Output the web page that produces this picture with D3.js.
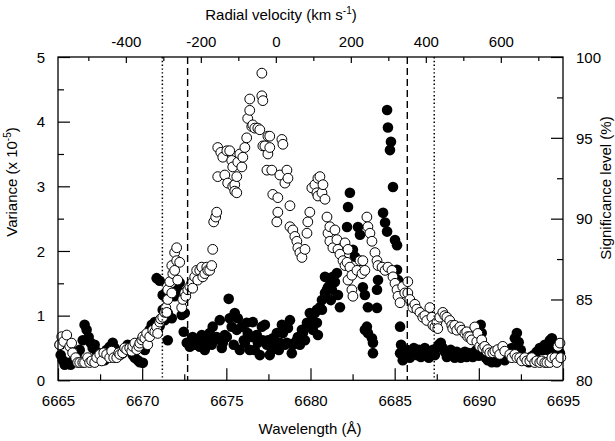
<!DOCTYPE html>
<html>
<head>
<meta charset="utf-8">
<script src="https://cdn.jsdelivr.net/npm/d3@7"></script>
<style>
  body { margin: 0; background: #fff; }
  svg { display: block; }
</style>
</head>
<body>
<svg width="615" height="441" font-family="'Liberation Sans', Arial, sans-serif"></svg>
<script>
// tick values
const wavelengthTicks = [6665, 6670, 6675, 6680, 6685, 6690, 6695];
const wavelengthMinorTicks = [6667.5, 6672.5, 6677.5, 6682.5, 6687.5, 6692.5];
const varianceTicks = [0, 1, 2, 3, 4, 5];
const varianceMinorTicks = [0.5, 1.5, 2.5, 3.5, 4.5];
const significanceTicks = [80, 85, 90, 95, 100];
const significanceMinorTicks = [82.5, 87.5, 92.5, 97.5];
const velocityTicks = [-400, -200, 0, 200, 400, 600];
const velocityMinorTicks = [-500, -300, -100, 100, 300, 500, 700];

// rest wavelength for the radial velocity axis
const restWavelength = 6677.94;
const lightSpeed = 299792.458;

// marker lines (wavelength)
const dottedLines = [6671.2, 6687.35];
const dashedLines = [6672.7, 6685.75];

// filled circles: [wavelength, variance x 1e-5]
const variancePoints = [
  [6665.10,.55],[6665.16,.39],[6665.28,.31],[6665.40,.24],[6665.58,.27],[6665.75,.24],[6665.93,.31],[6666.11,.39],
  [6666.29,.47],[6666.47,.62],[6666.58,.86],[6666.70,.78],[6666.82,.67],[6666.94,.58],[6667.06,.50],[6667.18,.55],
  [6667.30,.44],[6667.48,.35],[6667.66,.39],[6667.77,.31],[6667.89,.47],[6668.07,.52],[6668.25,.58],[6668.37,.50],
  [6668.49,.44],[6668.67,.39],[6668.84,.42],[6669.02,.50],[6669.14,.55],[6669.26,.47],[6669.44,.39],[6669.56,.35],
  [6669.74,.31],[6669.86,.28],[6670.04,.27],[6670.16,.47],[6670.33,.65],[6670.45,.78],[6670.57,.86],[6670.75,.90],
  [6670.86,1.58],[6671.04,1.54],[6671.04,.84],[6671.22,1.09],[6671.22,1.32],[6671.34,.93],[6671.46,1.27],[6671.52,1.04],
  [6671.64,1.37],[6671.52,.62],[6671.76,.96],[6671.93,1.30],[6672.11,1.40],[6672.23,1.51],[6672.35,1.01],[6672.53,1.04],
  [6672.47,.75],[6672.65,.58],[6672.83,.52],[6673.00,.67],[6673.12,.55],[6673.24,.59],[6673.42,.52],[6673.54,.70],
  [6673.60,.58],[6673.72,.47],[6673.84,.67],[6674.01,.73],[6674.13,.55],[6674.19,.83],[6674.31,.62],[6674.43,.67],
  [6674.61,.93],[6674.73,.50],[6674.79,.58],[6674.91,.70],[6675.03,.67],[6675.14,1.26],[6675.20,.96],[6675.32,.83],
  [6675.44,.55],[6675.50,1.04],[6675.62,.78],[6675.68,.96],[6675.80,.47],[6675.92,.83],[6676.04,.62],[6676.10,.58],
  [6676.21,.89],[6676.27,.73],[6676.39,.47],[6676.51,.67],[6676.57,.90],[6676.69,.47],[6676.81,.70],[6676.87,.58],
  [6676.99,.39],[6677.11,.83],[6677.17,.62],[6677.29,.86],[6677.41,.55],[6677.47,.62],[6677.58,.39],[6677.70,.47],
  [6677.76,.65],[6677.88,.52],[6678.00,.73],[6678.12,.47],[6678.18,.58],[6678.30,.86],[6678.36,.73],[6678.48,.55],
  [6678.60,.58],[6678.66,.81],[6678.78,.93],[6678.89,.42],[6678.95,.55],[6679.07,.58],[6679.19,.62],[6679.25,.67],
  [6679.37,.55],[6679.49,.78],[6679.55,.73],[6679.67,.62],[6679.79,.89],[6679.84,.83],[6679.96,1.04],[6680.08,.93],
  [6680.14,.78],[6680.26,1.04],[6680.38,1.09],[6680.38,.89],[6680.44,.70],[6680.56,1.13],[6680.68,1.24],[6680.68,1.09],
  [6680.86,1.35],[6680.86,1.60],[6680.98,1.40],[6681.04,1.44],[6681.15,1.55],[6681.21,1.24],[6681.27,1.40],[6681.33,1.60],
  [6681.45,1.52],[6681.57,1.66],[6681.63,1.32],[6681.75,1.13],[6682.17,2.37],[6682.23,2.68],[6682.34,2.90],[6682.52,2.02],
  [6682.64,1.91],[6682.82,2.37],[6682.94,2.25],[6683.11,1.44],[6683.23,1.32],[6683.23,.78],[6683.41,1.13],[6683.35,.83],
  [6683.41,.73],[6683.65,.65],[6683.71,.58],[6683.71,.42],[6683.95,1.40],[6684.01,1.55],[6683.95,1.12],[6684.31,2.59],
  [6684.43,2.44],[6684.55,2.30],[6684.55,4.18],[6684.60,3.91],[6684.78,3.69],[6684.72,3.56],[6684.90,2.99],[6685.02,2.17],
  [6685.14,2.09],[6685.14,1.71],[6685.20,1.55],[6685.32,.83],[6685.32,.42],[6685.38,.55],[6685.48,.31],[6685.60,.39],
  [6685.72,.47],[6685.90,.35],[6686.02,.44],[6686.14,.50],[6686.32,.39],[6686.44,.47],[6686.56,.36],[6686.67,.42],
  [6686.79,.50],[6686.91,.39],[6687.03,.35],[6687.15,.44],[6687.27,.47],[6687.39,.39],[6687.51,.50],[6687.62,.55],
  [6687.74,.58],[6687.86,.50],[6687.98,.44],[6688.10,.36],[6688.22,.42],[6688.33,.47],[6688.45,.39],[6688.57,.35],
  [6688.69,.44],[6688.81,.39],[6688.93,.35],[6689.05,.39],[6689.17,.44],[6689.28,.36],[6689.40,.42],[6689.52,.39],
  [6689.64,.36],[6689.76,.44],[6689.88,.47],[6690.00,.38],[6690.11,.86],[6690.17,.73],[6690.29,.39],[6690.41,.35],
  [6690.53,.31],[6690.65,.36],[6690.77,.28],[6690.89,.35],[6691.06,.28],[6691.24,.35],[6691.42,.39],[6691.54,.31],
  [6691.66,.44],[6691.84,.39],[6691.96,.50],[6692.14,.65],[6692.26,.73],[6692.37,.59],[6692.49,.47],[6692.61,.36],
  [6692.79,.31],[6692.97,.28],[6693.08,.36],[6693.26,.39],[6693.44,.44],[6693.62,.50],[6693.80,.47],[6693.92,.55],
  [6694.10,.47],[6694.22,.62],[6694.34,.65],[6694.46,.50],[6694.58,.44],[6694.70,.55],[6694.82,.42]
];

// open circles: [wavelength, significance level %]
const significancePoints = [
  [6665.10,82.2],[6665.22,82.7],[6665.34,82.4],[6665.52,82.8],[6665.70,82.1],[6665.81,82.3],[6665.87,81.7],[6666.05,81.4],
  [6666.17,81.1],[6666.29,81.1],[6666.47,81.1],[6666.58,81.1],[6666.76,81.4],[6666.88,81.1],[6667.00,81.2],[6667.18,81.1],
  [6667.30,81.4],[6667.48,81.6],[6667.60,81.2],[6667.72,81.7],[6667.89,81.6],[6668.07,81.4],[6668.19,81.8],[6668.31,81.4],
  [6668.49,81.4],[6668.61,81.7],[6668.67,81.6],[6668.84,81.7],[6668.96,82.0],[6669.08,81.9],[6669.26,82.0],[6669.38,81.8],
  [6669.44,82.1],[6669.56,82.3],[6669.68,81.9],[6669.80,82.1],[6669.86,82.3],[6669.98,82.5],[6670.04,82.7],[6670.16,82.6],
  [6670.27,82.9],[6670.33,82.2],[6670.45,82.7],[6670.63,83.1],[6670.75,83.0],[6670.86,83.3],[6670.92,82.9],[6671.04,83.6],
  [6671.10,83.8],[6671.22,83.9],[6671.34,84.2],[6671.40,84.5],[6671.46,84.2],[6671.52,85.0],[6671.52,85.6],[6671.64,86.1],
  [6671.76,85.4],[6671.82,86.6],[6671.76,87.1],[6671.93,87.9],[6671.93,86.8],[6672.05,87.4],[6672.05,88.2],[6672.11,86.2],
  [6672.23,87.3],[6672.35,84.5],[6672.41,85.0],[6672.53,85.4],[6672.59,85.2],[6672.71,85.6],[6672.83,85.8],[6672.94,86.0],
  [6673.00,85.7],[6673.12,86.4],[6673.24,86.8],[6673.30,86.2],[6673.42,86.8],[6673.54,87.0],[6673.60,86.4],[6673.72,86.6],
  [6673.84,87.0],[6673.90,86.8],[6674.01,86.8],[6674.13,87.1],[6674.19,88.1],[6674.25,89.8],[6674.37,90.1],[6674.43,90.4],
  [6674.49,94.4],[6674.49,92.6],[6674.67,94.1],[6674.79,93.8],[6674.91,92.7],[6675.03,94.2],[6675.08,92.2],[6675.20,94.2],
  [6675.32,93.6],[6675.38,92.0],[6675.38,93.2],[6675.50,92.1],[6675.50,91.7],[6675.62,92.6],[6675.62,91.6],[6675.68,93.5],
  [6675.80,94.0],[6675.92,93.2],[6675.98,93.8],[6676.10,94.4],[6676.21,95.0],[6676.27,96.2],[6676.39,97.4],[6676.39,96.7],
  [6676.51,95.7],[6676.57,95.8],[6676.69,95.6],[6676.87,95.6],[6676.99,95.5],[6677.11,99.0],[6677.11,97.6],[6677.17,97.3],
  [6677.17,94.5],[6677.29,94.5],[6677.41,93.0],[6677.47,95.1],[6677.47,94.0],[6677.58,95.1],[6677.58,94.4],[6677.70,93.0],
  [6677.76,91.5],[6678.00,89.8],[6678.06,91.3],[6678.06,90.4],[6678.18,92.7],[6678.30,94.9],[6678.36,94.6],[6678.48,92.2],
  [6678.60,93.0],[6678.66,92.5],[6678.78,90.8],[6678.78,89.5],[6678.95,89.3],[6679.07,88.9],[6679.19,88.6],[6679.25,88.2],
  [6679.37,87.9],[6679.49,87.6],[6679.67,88.1],[6679.79,89.1],[6679.84,89.8],[6679.96,90.4],[6680.08,91.9],[6680.26,92.1],
  [6680.38,91.6],[6680.44,92.5],[6680.44,91.4],[6680.56,92.6],[6680.68,91.6],[6680.74,92.1],[6680.86,91.2],[6680.98,90.1],
  [6681.04,89.1],[6681.15,89.5],[6681.15,88.6],[6681.33,88.2],[6681.45,89.3],[6681.57,88.7],[6681.63,88.1],[6681.75,87.8],
  [6681.93,87.4],[6682.05,88.5],[6682.05,87.1],[6682.17,87.3],[6682.23,88.1],[6682.23,86.2],[6682.34,87.0],[6682.46,86.5],
  [6682.46,85.6],[6682.52,85.2],[6682.76,86.8],[6682.94,87.4],[6683.06,86.6],[6683.11,87.4],[6683.23,86.8],[6683.35,90.1],
  [6683.41,89.5],[6683.53,89.1],[6683.65,88.6],[6683.83,87.9],[6683.95,87.4],[6684.01,87.1],[6684.25,87.0],[6684.43,86.8],
  [6684.60,87.0],[6684.84,86.8],[6684.90,86.4],[6685.02,86.0],[6685.14,85.6],[6685.20,85.2],[6685.32,84.8],[6685.48,85.8],
  [6685.60,85.4],[6685.78,86.1],[6685.78,85.4],[6685.90,85.0],[6686.08,84.5],[6686.20,84.7],[6686.32,84.4],[6686.50,84.2],
  [6686.67,83.9],[6686.79,84.0],[6686.91,83.7],[6687.09,84.5],[6687.21,83.9],[6687.27,83.4],[6687.39,83.3],[6687.51,83.6],
  [6687.56,83.2],[6687.68,83.9],[6687.86,84.2],[6687.98,84.0],[6688.10,83.9],[6688.27,83.7],[6688.39,83.4],[6688.45,83.2],
  [6688.57,83.4],[6688.69,83.1],[6688.87,83.3],[6688.99,83.1],[6689.17,82.9],[6689.28,83.0],[6689.34,82.7],[6689.46,82.7],
  [6689.58,82.5],[6689.76,83.3],[6689.88,82.4],[6689.94,82.9],[6690.05,82.1],[6690.17,82.5],[6690.23,82.0],[6690.35,82.1],
  [6690.47,81.8],[6690.53,81.9],[6690.65,81.7],[6690.83,81.7],[6690.95,81.8],[6691.12,81.9],[6691.24,81.6],[6691.42,82.1],
  [6691.54,81.8],[6691.84,81.6],[6691.96,81.4],[6692.14,81.6],[6692.26,81.4],[6692.43,81.4],[6692.55,81.2],[6692.73,81.4],
  [6692.85,81.2],[6693.03,81.2],[6693.14,81.4],[6693.32,81.1],[6693.44,81.2],[6693.62,81.1],[6693.74,81.2],[6693.92,81.1],
  [6694.04,81.1],[6694.22,81.1],[6694.34,81.4],[6694.52,81.4],[6694.64,81.1],[6694.70,82.1],[6694.82,82.3],[6694.87,81.4]
];

const svg = d3.select('svg');
const width = +svg.attr('width');
const height = +svg.attr('height');
const fontFamily = "'Liberation Sans', Arial, sans-serif";

const margin = { top: 57, right: 52, bottom: 61, left: 58 };
const innerWidth = width - margin.left - margin.right;
const innerHeight = height - margin.top - margin.bottom + 0.3;

const xScale = d3.scaleLinear()
    .domain([6665, 6695])
    .range([0, innerWidth]);

const toVelocity = w => (w - restWavelength) / restWavelength * lightSpeed;
const vScale = d3.scaleLinear()
    .domain(xScale.domain().map(toVelocity))
    .range([0, innerWidth]);

const yScale = d3.scaleLinear()
    .domain([0, 5])
    .range([innerHeight, 0]);

const sigScale = d3.scaleLinear()
    .domain([80, 100])
    .range([innerHeight, 0]);

const g = svg.append('g')
    .attr('transform', `translate(${margin.left},${margin.top})`);

const plain = d => String(d);

// draws one axis; minor ticks get no labels; labels placed with pixel offsets
const drawAxis = (axis, transform, labelShift) => {
    const axisG = g.append('g').attr('transform', transform).call(axis)
        .attr('font-size', 15)
        .attr('font-family', fontFamily);
    axisG.select('.domain').remove();
    axisG.selectAll('.tick line').attr('stroke', '#000').attr('stroke-width', 1.2);
    axisG.selectAll('text').filter(function () { return this.textContent === ''; }).remove();
    axisG.selectAll('.tick text')
        .attr('fill', '#000')
        .attr('dy', null)
        .each(function () {
            const t = d3.select(this);
            if (labelShift.x !== undefined) t.attr('x', labelShift.x);
            if (labelShift.y !== undefined) t.attr('y', labelShift.y);
        });
    return axisG;
};

// bottom axis
drawAxis(d3.axisBottom(xScale).tickValues(wavelengthMinorTicks).tickSize(-6).tickFormat(''), `translate(0,${innerHeight})`, {});
drawAxis(d3.axisBottom(xScale).tickValues(wavelengthTicks).tickSize(-12).tickFormat(plain), `translate(0,${innerHeight})`, { y: 25.3 });

// top axis
drawAxis(d3.axisTop(vScale).tickValues(velocityMinorTicks).tickSize(-4).tickFormat(''), null, {});
drawAxis(d3.axisTop(vScale).tickValues(velocityTicks).tickSize(-6).tickFormat(plain), null, { y: -10.3 });

// left axis
drawAxis(d3.axisLeft(yScale).tickValues(varianceMinorTicks).tickSize(-6).tickFormat(''), null, {});
drawAxis(d3.axisLeft(yScale).tickValues(varianceTicks).tickSize(-12).tickFormat(plain), null, { x: -13, y: 5.3 });

// right axis
drawAxis(d3.axisRight(sigScale).tickValues(significanceMinorTicks).tickSize(-6).tickFormat(''), `translate(${innerWidth},0)`, {});
drawAxis(d3.axisRight(sigScale).tickValues(significanceTicks).tickSize(-12).tickFormat(plain), `translate(${innerWidth},0)`, { x: 13, y: 5.3 });

// points
g.append('g')
    .selectAll('circle')
    .data(variancePoints)
    .join('circle')
    .attr('cx', d => xScale(d[0]))
    .attr('cy', d => yScale(d[1]))
    .attr('r', 5.3)
    .attr('fill', '#000');

g.append('g')
    .selectAll('circle')
    .data(significancePoints)
    .join('circle')
    .attr('cx', d => xScale(d[0]))
    .attr('cy', d => sigScale(d[1]))
    .attr('r', 4.9)
    .attr('fill', '#fff')
    .attr('stroke', '#000')
    .attr('stroke-width', 1);

// marker lines
g.append('g')
    .selectAll('line')
    .data(dottedLines)
    .join('line')
    .attr('x1', d => xScale(d)).attr('x2', d => xScale(d))
    .attr('y1', 0).attr('y2', innerHeight)
    .attr('stroke', '#000')
    .attr('stroke-width', 1.5)
    .attr('stroke-dasharray', '1.4,2.4');

g.append('g')
    .selectAll('line')
    .data(dashedLines)
    .join('line')
    .attr('x1', d => xScale(d)).attr('x2', d => xScale(d))
    .attr('y1', 0).attr('y2', innerHeight)
    .attr('stroke', '#000')
    .attr('stroke-width', 1.4)
    .attr('stroke-dasharray', '7,4');

// frame
g.append('rect')
    .attr('width', innerWidth)
    .attr('height', innerHeight)
    .attr('fill', 'none')
    .attr('stroke', '#000')
    .attr('stroke-width', 1.3);

// axis titles
const title = () => svg.append('text')
    .attr('font-size', 15)
    .attr('font-family', fontFamily)
    .attr('fill', '#000')
    .attr('text-anchor', 'middle');

const topTitle = title().attr('x', 281).attr('y', 19.5);
topTitle.append('tspan').text('Radial velocity (km s');
topTitle.append('tspan').attr('dy', -6).attr('font-size', 10).text('-1');
topTitle.append('tspan').attr('dy', 6).text(')');

title().attr('x', 310).attr('y', 433.5).text('Wavelength (Å)');

const leftTitle = title().attr('transform', 'translate(17,182) rotate(-90)');
leftTitle.append('tspan').text('Variance (x 10');
leftTitle.append('tspan').attr('dy', -6).attr('font-size', 10).text('-5');
leftTitle.append('tspan').attr('dy', 6).text(')');

title().attr('transform', 'translate(611,188) rotate(-90)').text('Significance level (%)');
</script>
</body>
</html>
